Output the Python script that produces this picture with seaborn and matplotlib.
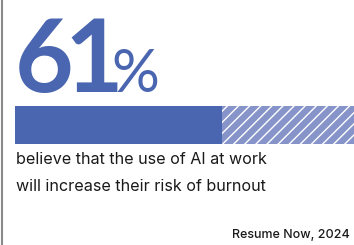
import pandas as pd
import seaborn as sns
from matplotlib import pyplot as plt
from matplotlib.lines import Line2D

# data
share = 61
rest = 100 - share
labels = ["AI burnout"]
headline_num = "61"
headline_pct = "%"
caption = ["believe that the use of AI at work", "will increase their risk of burnout"]
source = "Resume Now, 2024"

blue = "#4a66b0"
light = "#8794c9"

sns.set_theme(style="white")
plt.rcParams['hatch.linewidth'] = 1.0

W, H = 354, 245
fig = plt.figure(figsize=(W / 100, H / 100), dpi=100)
fig.patch.set_facecolor("white")

ax = fig.add_axes([15 / W, 101 / H, 1 - 15 / W, 38 / H])
df = pd.DataFrame({"label": labels, "total": [share + rest], "share": [share]})
sns.barplot(data=df, x="total", y="label", color=light, saturation=1, width=1,
            hatch="///", edgecolor="white", linewidth=0, ax=ax)
sns.barplot(data=df, x="share", y="label", color=blue, saturation=1, width=1,
            linewidth=0, ax=ax)
ax.set_xlim(0, 100)
ax.set_ylim(0.5, -0.5)
ax.axis("off")

# left border
fig.add_artist(Line2D([1.5 / W, 1.5 / W], [0, 1], color="#8a8a8a", lw=1.5))

# big number, digits set one by one so the "1" sits tight to the "6"
base = 1 - 92 / H
for ch, cx in zip(headline_num, [44, 94]):
    fig.text(cx / W, base, ch, fontsize=73, fontweight="bold", family="Lato",
             color=blue, va="baseline", ha="center")
fig.text(135 / W, base, headline_pct, fontsize=43, fontweight="normal",
         family="Lato", color=blue, va="baseline", ha="center")

fig.text(16 / W, 1 - 160 / H, caption[0], fontsize=11.6, family="Inter",
         color="#1a1a1a", va="center", ha="left")
fig.text(16 / W, 1 - 186 / H, caption[1], fontsize=11.6, family="Inter",
         color="#1a1a1a", va="center", ha="left")
fig.text(350 / W, 1 - 235 / H, source, fontsize=9, family="Inter",
         fontweight="medium", color="#1a1a1a", va="center", ha="right")

fig.savefig("out.png", dpi=100, facecolor="white")
